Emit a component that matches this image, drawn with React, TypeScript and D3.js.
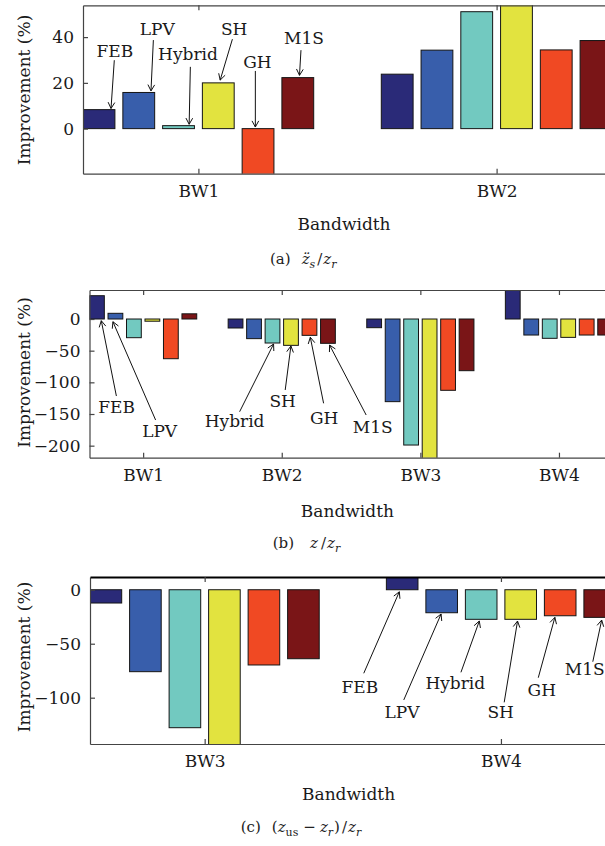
import React, { useRef, useEffect } from 'react';
import * as d3 from 'd3';

const seriesNames = ['FEB', 'LPV', 'Hybrid', 'SH', 'GH', 'M1S'];
const seriesColors = ['#2a2a78', '#385eab', '#72c9c0', '#e2e33f', '#f04923', '#7a1517'];

// (a) body acceleration, one row per series, one column per bandwidth
const groupsA = ['BW1', 'BW2'];
const groupPosA = [1, 2];
const valuesA = [
  [8.3, 23.8],
  [15.8, 34.3],
  [1.3, 51.1],
  [20.0, 60.0],
  [-25.0, 34.4],
  [22.3, 38.5],
];
const yTicksA = [0, 20, 40];

// (b) suspension travel
const groupsB = ['BW1', 'BW2', 'BW3', 'BW4'];
const groupPosB = [1, 2, 3, 4];
const valuesB = [
  [36.8, -14.2, -13.7, 60.0],
  [9.0, -31.0, -130.5, -25.3],
  [-29.5, -37.9, -199.0, -30.5],
  [-3.5, -41.6, -240.0, -29.0],
  [-62.7, -25.8, -112.6, -25.3],
  [8.2, -38.4, -81.6, -25.3],
];
const yTicksB = [0, -50, -100, -150, -200];

// (c) tyre deflection
const groupsC = ['BW3', 'BW4'];
const groupPosC = [3, 4];
const valuesC = [
  [-12.3, 20.0],
  [-75.9, -21.3],
  [-127.8, -27.4],
  [-160.0, -27.4],
  [-69.7, -24.1],
  [-63.9, -25.6],
];
const yTicksC = [0, -50, -100];

// label, text x, text y, tail x, tail y, head x, head y (data units)
type Note = [string, number, number, number, number, number, number];
const notesA: Note[] = [
  ['FEB', 0.720, 31.1, 0.718, 29.9, 0.707, 8.8],
  ['LPV', 0.862, 40.9, 0.849, 38.7, 0.841, 16.5],
  ['Hybrid', 0.965, 29.9, 0.973, 27.0, 0.969, 1.9],
  ['SH', 1.120, 40.9, 1.114, 39.1, 1.073, 21.2],
  ['GH', 1.198, 26.5, 1.191, 25.2, 1.191, 0.7],
  ['M1S', 1.354, 37.2, 1.344, 34.3, 1.339, 23.3],
];
const notesB: Note[] = [
  ['FEB', 0.809, -148.0, 0.807, -121.6, 0.698, -2.7],
  ['LPV', 1.119, -185.8, 1.090, -159.5, 0.782, -4.3],
  ['Hybrid', 1.660, -170.1, 1.696, -146.4, 1.941, -39.5],
  ['SH', 2.007, -138.5, 2.025, -112.1, 2.066, -42.6],
  ['GH', 2.306, -165.8, 2.302, -133.1, 2.206, -28.9],
  ['M1S', 2.656, -179.5, 2.609, -151.6, 2.345, -41.1],
];
const notesC: Note[] = [
  ['FEB', 3.524, -95.4, 3.537, -77.4, 3.657, -1.9],
  ['LPV', 3.666, -118.5, 3.672, -102.1, 3.798, -22.5],
  ['Hybrid', 3.846, -91.9, 3.865, -76.5, 3.927, -29.0],
  ['SH', 3.999, -118.5, 4.011, -104.3, 4.056, -29.0],
  ['GH', 4.138, -98.1, 4.126, -81.5, 4.182, -25.6],
  ['M1S', 4.283, -79.0, 4.310, -66.7, 4.340, -28.1],
];

type Seg = { t: string; it?: boolean; sub?: boolean; dx?: number };
const captionA: Seg[] = [
  { t: '(a)' }, { t: 'z\u0308', it: true, dx: 11 }, { t: 's', it: true, sub: true },
  { t: '/', dx: 2 }, { t: 'z', it: true, dx: 1 }, { t: 'r', it: true, sub: true },
];
const captionB: Seg[] = [
  { t: '(b)' }, { t: 'z', it: true, dx: 16 }, { t: '/', dx: 3 }, { t: 'z', it: true, dx: 1 },
  { t: 'r', it: true, sub: true },
];
const captionC: Seg[] = [
  { t: '(c)' }, { t: '(', dx: 11 }, { t: 'z', it: true }, { t: 'us', sub: true },
  { t: '\u2212', dx: 5 }, { t: 'z', it: true, dx: 4 }, { t: 'r', it: true, sub: true },
  { t: ')', dx: 1 }, { t: '/', dx: 2 }, { t: 'z', it: true, dx: 1 }, { t: 'r', it: true, sub: true },
];

const FONT = '"DejaVu Serif", serif';
const AXIS = '#444';
const INK = '#1a1a1a';

const panels = [
  {
    id: 'a', groups: groupsA, pos: groupPosA, values: valuesA, yTicks: yTicksA, notes: notesA, caption: captionA,
    left: 83, right: 612, top: 5.3, bottom: 173.7, xDomain: [0.613, 2.387], yDomain: [-19.7, 53.9],
    yLabelY: 90, xLabel: [344, 229.5], cap: [270, 263.5], topBold: false,
  },
  {
    id: 'b', groups: groupsB, pos: groupPosB, values: valuesB, yTicks: yTicksB, notes: notesB, caption: captionB,
    left: 89.5, right: 612.6, top: 290, bottom: 457.7, xDomain: [0.613, 4.387], yDomain: [-219, 45.8],
    yLabelY: 372.5, xLabel: [347.4, 517.3], cap: [272.7, 547.5], topBold: false,
  },
  {
    id: 'c', groups: groupsC, pos: groupPosC, values: valuesC, yTicks: yTicksC, notes: notesC, caption: captionC,
    left: 90, right: 615.6, top: 577, bottom: 744, xDomain: [2.613, 4.387], yDomain: [-142.9, 11.8],
    yLabelY: 657, xLabel: [348.6, 800], cap: [240.7, 831.7], topBold: true,
  },
];

const drawPanel = (svg: any, p: any) => {
  const x = d3.scaleLinear().domain(p.xDomain).range([p.left, p.right]);
  const y = d3.scaleLinear().domain(p.yDomain).range([p.bottom, p.top]);

  const nS = p.values.length;
  const groupWidth = Math.min(0.8, nS / (nS + 1.5));
  const step = groupWidth / nS;
  const barW = step * 0.8;

  svg.append('clipPath').attr('id', 'clip-' + p.id)
    .append('rect')
    .attr('x', p.left).attr('y', p.top)
    .attr('width', p.right - p.left).attr('height', p.bottom - p.top);

  const flat = p.values.flatMap((row: number[], s: number) =>
    row.map((v, i) => ({ s, v, c: p.pos[i] - groupWidth / 2 + step * (s + 0.5) })));

  svg.append('g').attr('clip-path', `url(#clip-${p.id})`)
    .selectAll('rect')
    .data(flat)
    .enter()
    .append('rect')
    .attr('x', (d: any) => x(d.c - barW / 2))
    .attr('width', (d: any) => x(d.c + barW / 2) - x(d.c - barW / 2))
    .attr('y', (d: any) => y(Math.max(0, d.v)))
    .attr('height', (d: any) => Math.abs(y(d.v) - y(0)))
    .attr('fill', (d: any) => seriesColors[d.s])
    .attr('stroke', '#151515')
    .attr('stroke-width', 1);

  // axes
  const yAxis = svg.append('g')
    .attr('transform', `translate(${p.left},0)`)
    .call(d3.axisLeft(y).tickValues(p.yTicks).tickSizeInner(-5).tickSizeOuter(0).tickPadding(9));
  const xAxis = svg.append('g')
    .attr('transform', `translate(0,${p.bottom})`)
    .call(d3.axisBottom(x).tickValues(p.pos).tickFormat((d: any, i: number) => p.groups[i])
      .tickSizeInner(-5).tickSizeOuter(0).tickPadding(11));
  const topAxis = svg.append('g')
    .attr('transform', `translate(0,${p.top})`)
    .call(d3.axisTop(x).tickValues(p.pos).tickFormat(() => '').tickSizeInner(-5).tickSizeOuter(0));

  [yAxis, xAxis, topAxis].forEach((a) => {
    a.selectAll('path, line').attr('stroke', AXIS).attr('stroke-width', 1.2);
    a.selectAll('text').attr('font-family', FONT).attr('font-size', 17).attr('fill', INK);
  });
  if (p.topBold) topAxis.select('path').attr('stroke', '#000').attr('stroke-width', 2.2);

  svg.append('text')
    .attr('transform', `translate(29.5,${p.yLabelY}) rotate(-90)`)
    .attr('text-anchor', 'middle')
    .attr('font-family', FONT).attr('font-size', 17).attr('fill', INK)
    .text('Improvement (%)');

  svg.append('text')
    .attr('x', p.xLabel[0]).attr('y', p.xLabel[1])
    .attr('text-anchor', 'middle')
    .attr('font-family', FONT).attr('font-size', 17).attr('fill', INK)
    .text('Bandwidth');

  // labelled arrows
  const notes = svg.append('g');
  p.notes.forEach((n: Note) => {
    const [label, tx, ty, ax, ay, hx, hy] = n;
    notes.append('text')
      .attr('x', x(tx)).attr('y', y(ty))
      .attr('text-anchor', 'middle')
      .attr('font-family', FONT).attr('font-size', 17).attr('fill', INK)
      .text(label);
    const x1 = x(ax), y1 = y(ay), x2 = x(hx), y2 = y(hy);
    notes.append('line')
      .attr('x1', x1).attr('y1', y1).attr('x2', x2).attr('y2', y2)
      .attr('stroke', '#111').attr('stroke-width', 1);
    const ang = Math.atan2(y1 - y2, x1 - x2);
    [0.5, -0.5].forEach((da) => {
      notes.append('line')
        .attr('x1', x2).attr('y1', y2)
        .attr('x2', x2 + 7 * Math.cos(ang + da)).attr('y2', y2 + 7 * Math.sin(ang + da))
        .attr('stroke', '#111').attr('stroke-width', 1);
    });
  });

  // caption
  const cap = svg.append('text')
    .attr('x', p.cap[0]).attr('y', p.cap[1])
    .attr('font-family', FONT).attr('font-size', 15).attr('fill', '#222');
  let shifted = false;
  p.caption.forEach((seg: Seg) => {
    const ts = cap.append('tspan').text(seg.t);
    if (seg.it) ts.attr('font-style', 'italic');
    let dy = 0;
    if (seg.sub && !shifted) { dy = 4; shifted = true; }
    if (!seg.sub && shifted) { dy = -4; shifted = false; }
    if (dy) ts.attr('dy', dy);
    if (seg.sub) ts.attr('font-size', 11);
    if (seg.dx) ts.attr('dx', seg.dx);
  });
};

const App = () => {
  const ref = useRef<SVGSVGElement>(null);

  useEffect(() => {
    const svg = d3.select(ref.current);
    svg.selectAll('*').remove();
    svg.append('rect').attr('width', 605).attr('height', 846).attr('fill', '#fff');
    panels.forEach((p) => drawPanel(svg, p));
  }, []);

  return (
    <svg
      ref={ref}
      width={605}
      height={846}
      style={{ position: 'absolute', left: 0, top: 0, display: 'block' }}
      aria-label={seriesNames.join(', ')}
    />
  );
};

export default App;
